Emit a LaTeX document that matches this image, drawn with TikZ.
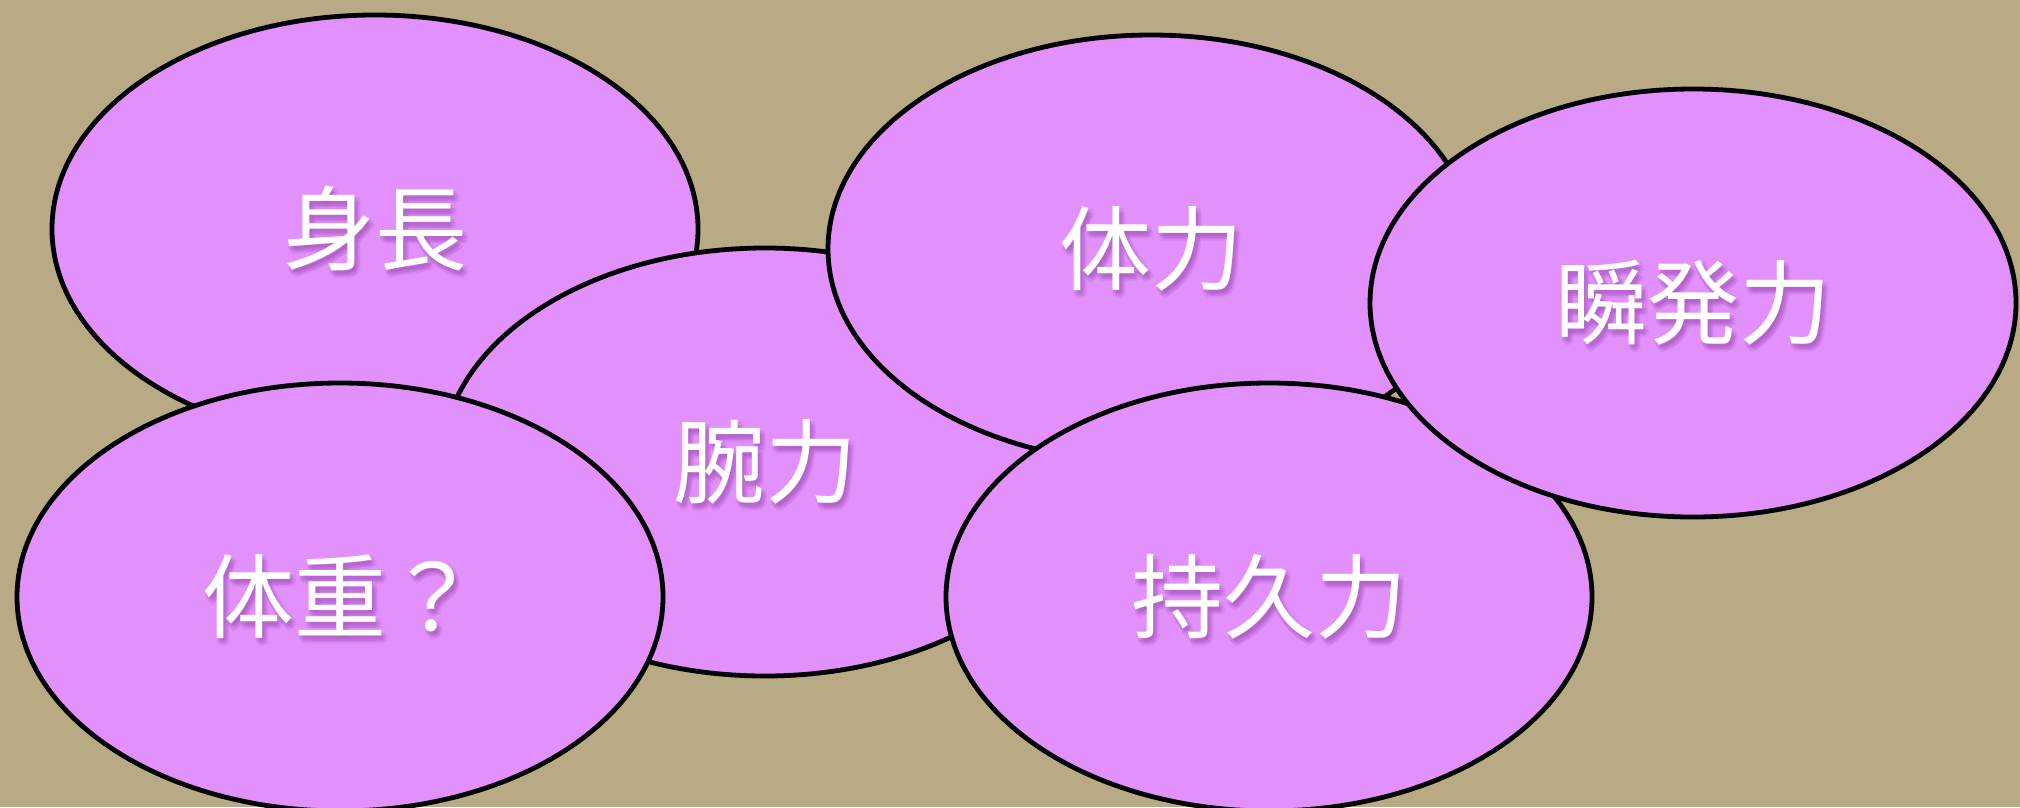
\documentclass[tikz,border=0pt]{standalone}
\usepackage{fontspec}
\newfontfamily\cjk{Noto Sans CJK JP}
\usetikzlibrary{shapes.geometric}
\definecolor{bgtan}{RGB}{184,170,132}
\definecolor{blobfill}{RGB}{226,144,252}
\definecolor{shadowc}{RGB}{150,70,170}
\tikzset{
  blob/.style={ellipse, draw=black, line width=4.8pt, fill=blobfill,
    minimum width=646pt, minimum height=428pt, inner sep=0pt},
  blobtext/.style={text=white, font=\cjk\fontsize{92}{110}\selectfont, inner sep=0pt},
  blobshadow/.style={text=shadowc, font=\cjk\fontsize{92}{110}\selectfont, inner sep=0pt, text opacity=0.12}
}
\newcommand{\myblob}[4]{%
  \node[blob] (#1) at (#2,#3) {};
  \foreach \dx/\dy in {2/3,4/5,1/6,5/2,3/8,0/4,6/6} {
    \node[blobshadow] at ([xshift=\dx pt,yshift=-\dy pt]#1.center) {#4};
  }
  \node[blobtext] (#1t) at (#1.center) {#4};
}
\begin{document}
\begin{tikzpicture}[x=1pt,y=-1pt]
\fill[bgtan] (0,0) rectangle (2020,807);
\useasboundingbox (0,0) rectangle (2020,807);
\myblob{shincho}{375}{229}{身長}
\myblob{wanryoku}{765}{462}{腕力}
\myblob{tairyoku}{1151}{249}{体力}
\myblob{jikyu}{1269}{597}{持久力}
\myblob{shunpatsu}{1693}{303}{瞬発力}
\myblob{taiju}{340}{597}{体重？}
\end{tikzpicture}
\end{document}
